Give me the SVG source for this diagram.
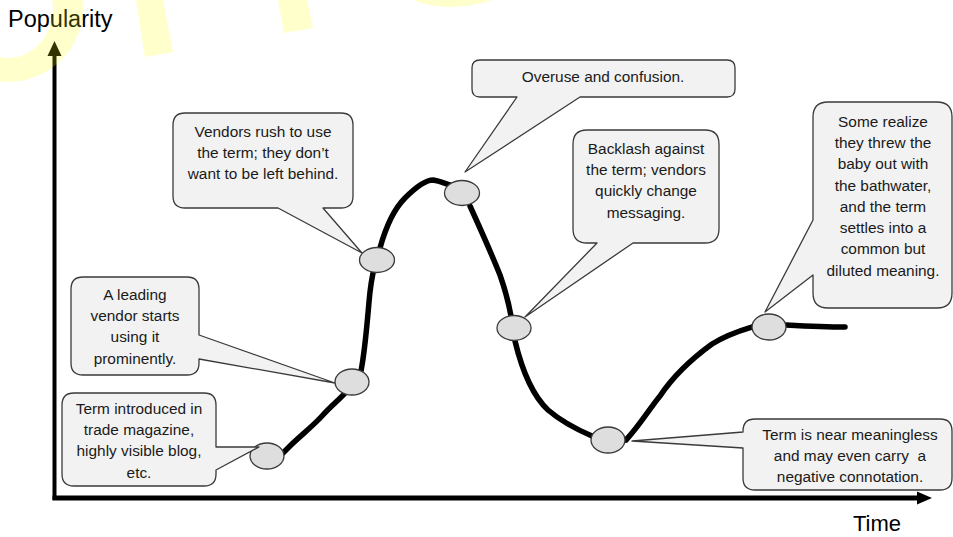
<svg xmlns="http://www.w3.org/2000/svg" width="953" height="537" viewBox="0 0 953 537">
<style>
.callout{fill:#f2f2f2;stroke:#3a3a3a;stroke-width:1.3;stroke-linejoin:round}
.pt{fill:#dedede;stroke:#3a3a3a;stroke-width:1.3}
.curve{fill:none;stroke:#000;stroke-width:5.5;stroke-linecap:round;stroke-linejoin:round}
.lbl{font-family:"Liberation Sans",Arial,sans-serif;font-size:15.4px;fill:#1a1a1a;text-anchor:middle}
.axlbl{font-family:"Liberation Sans",Arial,sans-serif;fill:#000}
.wm{fill:#ffff00;fill-opacity:0.2}
</style>
<rect width="953" height="537" fill="#fff"/>

<g id="axes">
  <line x1="54.5" y1="500" x2="54.5" y2="54" stroke="#000" stroke-width="4"/>
  <polygon points="54.5,41 47.5,56 61.5,56" fill="#000"/>
  <line x1="52.5" y1="498" x2="919" y2="498" stroke="#000" stroke-width="5"/>
  <polygon points="932,498 917,491.5 917,504.5" fill="#000"/>
  <text class="axlbl" x="8" y="27" font-size="23.5">Popularity</text>
  <text class="axlbl" x="853" y="531" font-size="22">Time</text>
</g>

<g id="connectors">
  <path class="curve" d="M283,453 L290,446 C300,436 312,427 322,416 C332,405 340,399 346,392"/>
  <path class="curve" d="M361,371 C366,345 368,310 370,292 C371,283 372,278 373,273"/>
  <path class="curve" d="M380,248 C385,230 393,210 405,198 C415,188 425,180 433,180 C440,181 446,184 450,185"/>
  <path class="curve" d="M470,206 C480,228 492,255 500,275 C506,292 509,305 511,316"/>
  <path class="curve" d="M515,341 C522,370 532,395 548,410 C562,422 578,430 592,436"/>
  <path class="curve" d="M626,440 C640,425 650,408 660,396 C672,378 690,360 712,344 C728,334 742,330 752,327"/>
  <path class="curve" d="M786,325 C805,326 825,327 845,327"/>
</g>

<g id="point-1"><ellipse class="pt" cx="267" cy="456" rx="17" ry="13"/></g>
<g id="point-2"><ellipse class="pt" cx="352" cy="382" rx="17" ry="13"/></g>
<g id="point-3"><ellipse class="pt" cx="377" cy="260" rx="17.5" ry="12.5"/></g>
<g id="point-4"><ellipse class="pt" cx="462" cy="193" rx="17.5" ry="12.5"/></g>
<g id="point-5"><ellipse class="pt" cx="514" cy="328" rx="17" ry="12.5"/></g>
<g id="point-6"><ellipse class="pt" cx="608" cy="440" rx="17" ry="13"/></g>
<g id="point-7"><ellipse class="pt" cx="769" cy="327" rx="17" ry="13"/></g>

<g id="callout-term-introduced">
  <path class="callout" d="M74,393 H204 Q216,393 216,405 V447 L259,447 L216,470 V474 Q216,486 204,486 H74 Q62,486 62,474 V405 Q62,393 74,393 Z"/>
  <text class="lbl" x="139" y="414">Term introduced in</text>
  <text class="lbl" x="139" y="435">trade magazine,</text>
  <text class="lbl" x="139" y="456">highly visible blog,</text>
  <text class="lbl" x="139" y="478">etc.</text>
</g>

<g id="callout-leading-vendor">
  <path class="callout" d="M83,277 H187 Q199,277 199,289 V335 L335,383 L199,359 V363 Q199,375 187,375 H83 Q71,375 71,363 V289 Q71,277 83,277 Z"/>
  <text class="lbl" x="135" y="300">A leading</text>
  <text class="lbl" x="135" y="321">vendor starts</text>
  <text class="lbl" x="135" y="342">using it</text>
  <text class="lbl" x="135" y="364">prominently.</text>
</g>

<g id="callout-vendors-rush">
  <path class="callout" d="M185,113 H341 Q353,113 353,125 V196 Q353,208 341,208 H323 L362,253 L278,208 H185 Q173,208 173,196 V125 Q173,113 185,113 Z"/>
  <text class="lbl" x="263" y="137">Vendors rush to use</text>
  <text class="lbl" x="263" y="158">the term; they don’t</text>
  <text class="lbl" x="263" y="179">want to be left behind.</text>
</g>

<g id="callout-overuse">
  <path class="callout" d="M480,60 H727 Q735,60 735,68 V89 Q735,97 727,97 H580 L465,172 L517,97 H480 Q472,97 472,89 V68 Q472,60 480,60 Z"/>
  <text class="lbl" x="603" y="82">Overuse and confusion.</text>
</g>

<g id="callout-backlash">
  <path class="callout" d="M587,130 H705 Q719,130 719,144 V229 Q719,243 705,243 H633 L525,317 L597,243 H587 Q573,243 573,229 V144 Q573,130 587,130 Z"/>
  <text class="lbl" x="646" y="154">Backlash against</text>
  <text class="lbl" x="646" y="175">the term; vendors</text>
  <text class="lbl" x="646" y="196">quickly change</text>
  <text class="lbl" x="646" y="218">messaging.</text>
</g>

<g id="callout-meaningless">
  <path class="callout" d="M755,419 H940 Q952,419 952,431 V478 Q952,490 940,490 H755 Q743,490 743,478 V448 L632,441 L743,432 V431 Q743,419 755,419 Z"/>
  <text class="lbl" x="850" y="440">Term is near meaningless</text>
  <text class="lbl" x="850" y="461" xml:space="preserve">and may even carry  a</text>
  <text class="lbl" x="850" y="482">negative connotation.</text>
</g>

<g id="callout-settles">
  <path class="callout" d="M828,102 H937 Q952,102 952,117 V293 Q952,308 937,308 H828 Q813,308 813,293 V275 L765,312 L813,220 V117 Q813,102 828,102 Z"/>
  <text class="lbl" x="883" y="127">Some realize</text>
  <text class="lbl" x="883" y="148">they threw the</text>
  <text class="lbl" x="883" y="169">baby out with</text>
  <text class="lbl" x="883" y="191">the bathwater,</text>
  <text class="lbl" x="883" y="212">and the term</text>
  <text class="lbl" x="883" y="233">settles into a</text>
  <text class="lbl" x="883" y="254">common but</text>
  <text class="lbl" x="883" y="276">diluted meaning.</text>
</g>

<g id="watermark">
  <path class="wm" fill-rule="evenodd" d="M83,8 A75,74 0 1 1 -67,8 A75,74 0 1 1 83,8 Z M53,8 A45,50 0 1 0 -37,8 A45,50 0 1 0 53,8 Z"/>
  <polygon class="wm" points="136,0 163,0 173,52 145,57"/>
  <polygon class="wm" points="278,0 307,0 313,28 284,33"/>
  <path class="wm" d="M413,0 Q447,14 493,0 Z"/>
</g>
</svg>
